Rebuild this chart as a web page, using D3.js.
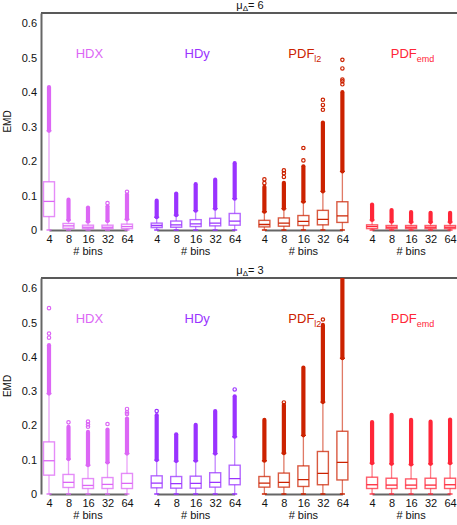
<!DOCTYPE html>
<html>
<head>
<meta charset="utf-8">
<script src="https://cdn.jsdelivr.net/npm/d3@7"></script>
<style>
  html, body { margin: 0; padding: 0; background: #fff; }
  svg { display: block; font-family: "Liberation Sans", Arial, Helvetica, sans-serif; }
</style>
</head>
<body>
<svg id="chart" width="457" height="525"></svg>
<script>
// Categories
const bins = ["4", "8", "16", "32", "64"];
const methods = ["HDX", "HDy", "PDFl2", "PDFemd"];
const yTicks = [0, 0.1, 0.2, 0.3, 0.4, 0.5, 0.6];

// Box statistics per bin count: [whisker low, Q1, median, Q3, whisker high, top of dense outliers]
// μΔ = 6
const HDX_6 = [
  [0, 0.039, 0.083, 0.140, 0.288, 0.415],
  [0, 0.005, 0.012, 0.019, 0.029, 0.088],
  [0, 0.004, 0.008, 0.014, 0.024, 0.065],
  [0, 0.004, 0.008, 0.014, 0.026, 0.069],
  [0, 0.004, 0.010, 0.017, 0.031, 0.103]
];
const HDy_6 = [
  [0, 0.007, 0.013, 0.020, 0.037, 0.085],
  [0, 0.008, 0.015, 0.026, 0.043, 0.106],
  [0, 0.010, 0.018, 0.030, 0.056, 0.133],
  [0, 0.012, 0.020, 0.034, 0.062, 0.146],
  [0, 0.014, 0.026, 0.048, 0.091, 0.194]
];
const PDFl2_6 = [
  [0, 0.009, 0.016, 0.028, 0.053, 0.125],
  [0, 0.011, 0.020, 0.035, 0.062, 0.137],
  [0, 0.013, 0.025, 0.042, 0.082, 0.185],
  [0, 0.015, 0.031, 0.057, 0.112, 0.312],
  [0, 0.022, 0.041, 0.082, 0.170, 0.400]
];
const PDFemd_6 = [
  [0, 0.004, 0.010, 0.015, 0.029, 0.074],
  [0, 0.004, 0.008, 0.013, 0.024, 0.058],
  [0, 0.004, 0.008, 0.013, 0.023, 0.052],
  [0, 0.004, 0.008, 0.013, 0.023, 0.050],
  [0, 0.004, 0.008, 0.013, 0.023, 0.050]
];
// Isolated outliers, μΔ = 6
const HDX_6_out = [[], [], [], [0.078], [0.111]];
const HDy_6_out = [[], [], [], [], []];
const PDFl2_6_out = [[0.136, 0.147], [0.154, 0.165, 0.173], [0.202, 0.238], [0.349, 0.363, 0.378], [0.423, 0.432, 0.437, 0.469, 0.494]];
const PDFemd_6_out = [[], [], [], [], []];

// μΔ = 3
const HDX_3 = [
  [0, 0.055, 0.097, 0.152, 0.293, 0.434],
  [0, 0.019, 0.034, 0.057, 0.102, 0.196],
  [0, 0.016, 0.025, 0.045, 0.084, 0.181],
  [0, 0.016, 0.028, 0.048, 0.092, 0.188],
  [0, 0.016, 0.031, 0.060, 0.118, 0.220]
];
const HDy_3 = [
  [0, 0.018, 0.032, 0.053, 0.099, 0.230],
  [0, 0.017, 0.030, 0.051, 0.096, 0.174],
  [0, 0.017, 0.031, 0.052, 0.097, 0.202],
  [0, 0.020, 0.034, 0.062, 0.118, 0.242],
  [0, 0.027, 0.045, 0.084, 0.167, 0.285]
];
const PDFl2_3 = [
  [0, 0.020, 0.032, 0.051, 0.097, 0.216],
  [0, 0.020, 0.034, 0.061, 0.119, 0.260],
  [0, 0.022, 0.042, 0.082, 0.171, 0.369],
  [0, 0.027, 0.060, 0.124, 0.268, 0.493],
  [0, 0.041, 0.092, 0.183, 0.396, 0.630]
];
const PDFemd_3 = [
  [0, 0.016, 0.027, 0.049, 0.090, 0.210],
  [0, 0.016, 0.026, 0.046, 0.088, 0.231],
  [0, 0.016, 0.026, 0.044, 0.086, 0.216],
  [0, 0.016, 0.026, 0.046, 0.088, 0.211],
  [0, 0.016, 0.027, 0.046, 0.090, 0.217]
];
// Isolated outliers, μΔ = 3
const HDX_3_out = [[0.456, 0.468, 0.542], [0.209], [0.196, 0.203, 0.211], [0.204], [0.233, 0.238, 0.248]];
const HDy_3_out = [[0.242], [], [], [], [0.305]];
const PDFl2_3_out = [[], [0.267], [], [0.509], []];
const PDFemd_3_out = [[], [], [], [], []];

const colors = { HDX: "#dc66f5", HDy: "#9a33ff", PDFl2: "#cc2200", PDFemd: "#ff2638" };
const labelParts = {
  HDX: ["HDX", ""], HDy: ["HDy", ""], PDFl2: ["PDF", "l2"], PDFemd: ["PDF", "emd"]
};

const panels = [
  { mu: "6", top: 13, bottom: 230,
    stats: { HDX: HDX_6, HDy: HDy_6, PDFl2: PDFl2_6, PDFemd: PDFemd_6 },
    outs: { HDX: HDX_6_out, HDy: HDy_6_out, PDFl2: PDFl2_6_out, PDFemd: PDFemd_6_out } },
  { mu: "3", top: 278, bottom: 494,
    stats: { HDX: HDX_3, HDy: HDy_3, PDFl2: PDFl2_3, PDFemd: PDFemd_3 },
    outs: { HDX: HDX_3_out, HDy: HDy_3_out, PDFl2: PDFl2_3_out, PDFemd: PDFemd_3_out } }
];

const svg = d3.select("#chart");
const left = 41;
const groupX = d3.scaleBand().domain(methods).range([left, 461]).paddingInner(0.1).paddingOuter(0);
const binX = d3.scalePoint().domain(bins).range([8, 86]).padding(0);
const boxW = 11;

panels.forEach((p, pi) => {
  const y = d3.scaleLinear().domain([0, 0.63]).range([p.bottom, p.top]);
  const g = svg.append("g");

  const clipId = "clip" + pi;
  svg.append("defs").append("clipPath").attr("id", clipId)
    .append("rect").attr("x", 0).attr("y", p.top).attr("width", 457).attr("height", p.bottom - p.top + 4);

  // panel title
  const t = g.append("text").attr("x", 250).attr("y", p.top - 4.5)
    .attr("text-anchor", "middle").attr("font-size", 11).attr("fill", "#111");
  t.append("tspan").text("μ");
  t.append("tspan").attr("font-size", 8).attr("dy", 2).text("Δ");
  t.append("tspan").attr("dy", -2).text("= " + p.mu);

  // top frame line
  g.append("line").attr("x1", left).attr("x2", 457).attr("y1", p.top).attr("y2", p.top)
    .attr("stroke", "#222").attr("stroke-width", 1.4);

  // y axis
  const yAxis = d3.axisLeft(y).tickValues(yTicks).tickSize(0).tickPadding(4)
    .tickFormat(d => d === 0 ? "0" : d3.format(".1f")(d));
  const ya = g.append("g").attr("transform", `translate(${left},0)`).call(yAxis);
  ya.select(".domain").attr("stroke", "#666").attr("stroke-width", 2);
  ya.selectAll("text").attr("font-size", 11).attr("fill", "#111")
    .attr("font-family", "'Liberation Sans', Arial, sans-serif");

  g.append("text").attr("transform", `translate(11,${(p.top + p.bottom) / 2}) rotate(-90)`)
    .attr("text-anchor", "middle").attr("font-size", 10).attr("fill", "#111").text("EMD");

  methods.forEach(m => {
    const gx = groupX(m);
    const col = colors[m];
    const mg = g.append("g").attr("transform", `translate(${gx},0)`);

    // x axis for this method's group of bins
    const xAxis = d3.axisBottom(binX).tickSize(0).tickPadding(5);
    const xa = mg.append("g").attr("transform", `translate(0,${p.bottom})`).call(xAxis);
    xa.select(".domain").attr("stroke", "#666").attr("stroke-width", 2);
    xa.selectAll("text").attr("font-size", 11).attr("fill", "#111")
      .attr("font-family", "'Liberation Sans', Arial, sans-serif");

    mg.append("text").attr("x", (binX(bins[0]) + binX(bins[4])) / 2).attr("y", p.bottom + 25)
      .attr("text-anchor", "middle").attr("font-size", 11).attr("fill", "#111").text("# bins");

    // method label
    const lbl = mg.append("text").attr("x", groupX.bandwidth() / 2).attr("y", p.top + 45)
      .attr("text-anchor", "middle").attr("font-size", 13).attr("fill", col);
    lbl.append("tspan").text(labelParts[m][0]);
    if (labelParts[m][1]) lbl.append("tspan").attr("font-size", 9).attr("dy", 4).text(labelParts[m][1]);

    const boxes = mg.append("g").attr("clip-path", `url(#${clipId})`);
    const stats = p.stats[m];
    const outs = p.outs[m];

    bins.forEach((b, i) => {
      const [lo, q1, med, q3, hi, top] = stats[i];
      const cx = binX(b);
      const bg = boxes.append("g");

      // whiskers
      bg.append("line").attr("x1", cx).attr("x2", cx).attr("y1", y(q3)).attr("y2", y(hi))
        .attr("stroke", col).attr("stroke-opacity", 0.6).attr("stroke-width", 1.3);
      bg.append("line").attr("x1", cx).attr("x2", cx).attr("y1", y(q1)).attr("y2", y(lo))
        .attr("stroke", col).attr("stroke-opacity", 0.6).attr("stroke-width", 1.3);
      [hi, lo].forEach(v => {
        bg.append("line").attr("x1", cx - 2.5).attr("x2", cx + 2.5).attr("y1", y(v)).attr("y2", y(v))
          .attr("stroke", col).attr("stroke-width", 1.3);
      });

      // dense run of outliers
      if (top > hi) {
        bg.append("line").attr("x1", cx).attr("x2", cx).attr("y1", y(hi)).attr("y2", y(top))
          .attr("stroke", col).attr("stroke-width", 4.2).attr("stroke-linecap", "round");
      }
      // isolated outliers
      bg.selectAll("circle.o").data(outs[i]).enter().append("circle")
        .attr("cx", cx).attr("cy", d => y(d)).attr("r", 1.7)
        .attr("fill", "none").attr("stroke", col).attr("stroke-width", 1.2);

      // box and median
      bg.append("rect").attr("x", cx - boxW / 2).attr("y", y(q3))
        .attr("width", boxW).attr("height", y(q1) - y(q3))
        .attr("fill", "none").attr("stroke", col).attr("stroke-opacity", 0.75).attr("stroke-width", 1.4);
      bg.append("line").attr("x1", cx - boxW / 2).attr("x2", cx + boxW / 2)
        .attr("y1", y(med)).attr("y2", y(med))
        .attr("stroke", col).attr("stroke-width", 1.3);
    });
  });
});
</script>
</body>
</html>
